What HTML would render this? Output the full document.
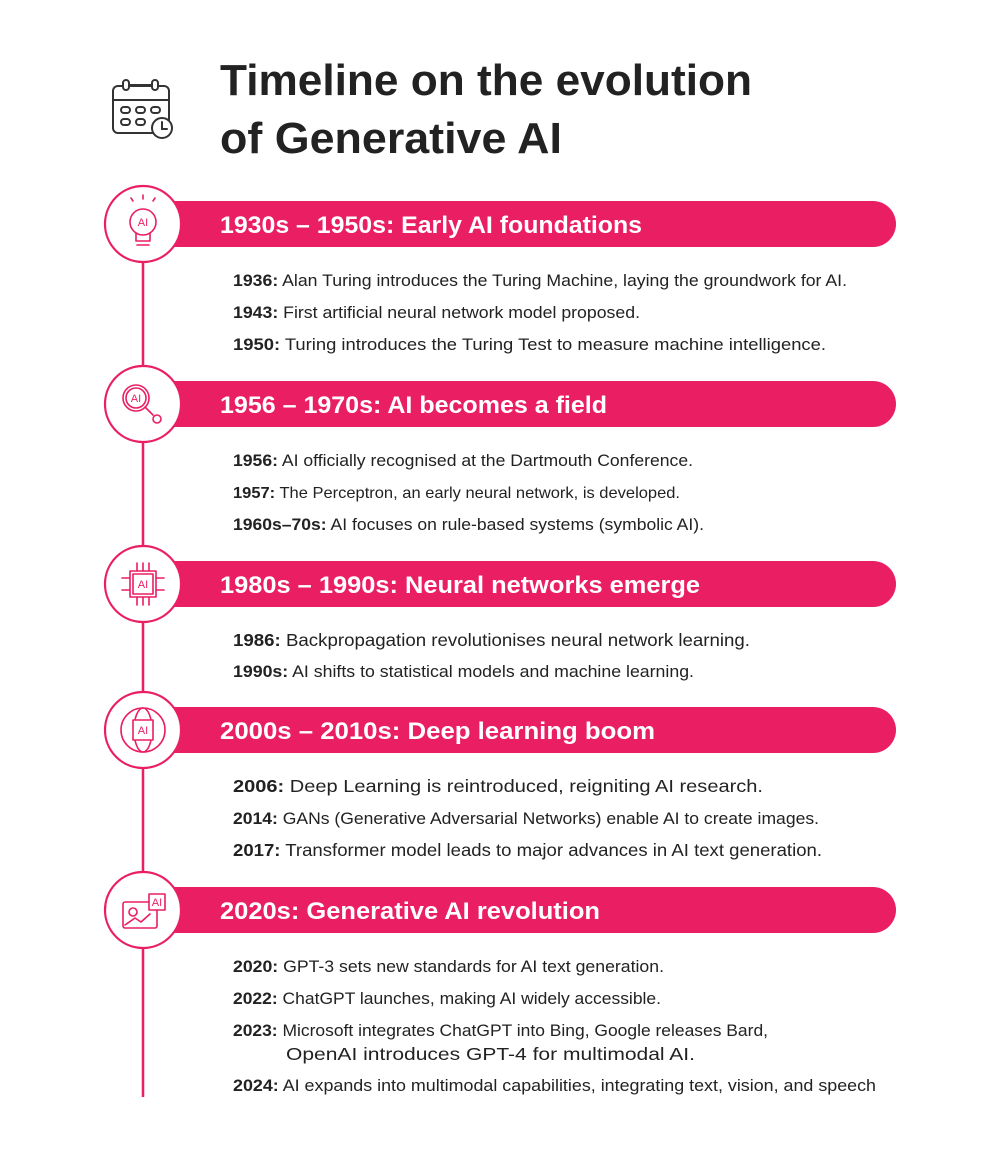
<!DOCTYPE html>
<html><head><meta charset="utf-8"><style>
html,body{margin:0;padding:0;background:#fff;}
svg{display:block;}
.t{font-family:"Liberation Sans",sans-serif;font-weight:bold;fill:#222;}
.h{font-family:"Liberation Sans",sans-serif;font-weight:bold;fill:#fff;font-size:24px;}
.i{font-family:"Liberation Sans",sans-serif;fill:#222;font-size:17px;}
.i tspan.b{font-weight:bold;}
.ic{fill:none;stroke:#ea1e63;stroke-width:1.6;stroke-linecap:round;stroke-linejoin:round;}
.ict{font-family:"Liberation Sans",sans-serif;fill:#ea1e63;font-size:11px;}
</style></head><body>
<svg width="1000" height="1156" viewBox="0 0 1000 1156" xmlns="http://www.w3.org/2000/svg">
<g fill="none" stroke="#333" stroke-width="2" stroke-linecap="round">
<rect x="113" y="86" width="56" height="47" rx="5"/>
<line x1="113" y1="100" x2="169" y2="100"/>
<rect x="123" y="80" width="6" height="10" rx="3" fill="#fff"/>
<rect x="152" y="80" width="6" height="10" rx="3" fill="#fff"/>
<line x1="129" y1="85" x2="152" y2="85"/>
<rect x="121" y="107" width="9" height="6" rx="3"/><rect x="136" y="107" width="9" height="6" rx="3"/><rect x="151" y="107" width="9" height="6" rx="3"/>
<rect x="121" y="119" width="9" height="6" rx="3"/><rect x="136" y="119" width="9" height="6" rx="3"/>
<circle cx="162" cy="128" r="10" fill="#fff"/>
<polyline points="162,122 162,129 167,129"/>
</g>
<text class="t" x="220" y="95" font-size="44" textLength="532" lengthAdjust="spacingAndGlyphs">Timeline on the evolution</text>
<text class="t" x="220" y="153" font-size="44" textLength="342" lengthAdjust="spacingAndGlyphs">of Generative AI</text>

<line x1="143" y1="224" x2="143" y2="1097" stroke="#ea1e63" stroke-width="2.5"/>

<g fill="#ea1e63">
<rect x="150" y="201" width="746" height="46" rx="23"/>
<rect x="150" y="381" width="746" height="46" rx="23"/>
<rect x="150" y="561" width="746" height="46" rx="23"/>
<rect x="150" y="707" width="746" height="46" rx="23"/>
<rect x="150" y="887" width="746" height="46" rx="23"/>
</g>
<g fill="#fff" stroke="#ea1e63" stroke-width="2.2">
<circle cx="143" cy="224" r="38"/>
<circle cx="143" cy="404" r="38"/>
<circle cx="143" cy="584" r="38"/>
<circle cx="143" cy="730" r="38"/>
<circle cx="143" cy="910" r="38"/>
</g>
<g class="ic">
<circle cx="143" cy="222" r="13"/>
<path d="M136 233 L136 241 L150 241 L150 233"/><line x1="137" y1="245" x2="149" y2="245"/>
<line x1="143" y1="195" x2="143" y2="199"/><line x1="131" y1="198" x2="133" y2="201"/><line x1="155" y1="198" x2="153" y2="201"/>
<circle cx="136" cy="398" r="13"/><circle cx="136" cy="398" r="10"/>
<line x1="145" y1="407" x2="153" y2="415"/><circle cx="157" cy="419" r="4"/>
<rect x="133" y="574" width="20" height="20"/><rect x="130" y="571" width="26" height="26"/>
<line x1="137" y1="571" x2="137" y2="563"/><line x1="143" y1="571" x2="143" y2="563"/><line x1="149" y1="571" x2="149" y2="563"/>
<line x1="137" y1="597" x2="137" y2="605"/><line x1="143" y1="597" x2="143" y2="605"/><line x1="149" y1="597" x2="149" y2="605"/>
<line x1="130" y1="578" x2="122" y2="578"/><line x1="130" y1="590" x2="122" y2="590"/>
<line x1="156" y1="578" x2="164" y2="578"/><line x1="156" y1="590" x2="164" y2="590"/>
<circle cx="143" cy="730" r="22"/><ellipse cx="143" cy="730" rx="9" ry="22"/>
<rect x="133" y="720" width="20" height="20" fill="#fff"/>
<rect x="123" y="902" width="34" height="26" rx="2"/><circle cx="133" cy="912" r="4"/>
<polyline points="125,925 135,918 141,922 150,914"/>
<rect x="149" y="894" width="16" height="16" fill="#fff"/>
</g>
<text class="ict" x="143" y="226" text-anchor="middle" font-size="10">AI</text>
<text class="ict" x="136" y="402" text-anchor="middle">AI</text>
<text class="ict" x="143" y="588" text-anchor="middle">AI</text>
<text class="ict" x="143" y="734" text-anchor="middle">AI</text>
<text class="ict" x="157" y="906" text-anchor="middle" font-size="10">AI</text>

<text class="h" x="220" y="233" textLength="422" lengthAdjust="spacingAndGlyphs">1930s – 1950s: Early AI foundations</text>
<text class="h" x="220" y="413" textLength="387" lengthAdjust="spacingAndGlyphs">1956 – 1970s: AI becomes a field</text>
<text class="h" x="220" y="593" textLength="480" lengthAdjust="spacingAndGlyphs">1980s – 1990s: Neural networks emerge</text>
<text class="h" x="220" y="739" textLength="435" lengthAdjust="spacingAndGlyphs">2000s – 2010s: Deep learning boom</text>
<text class="h" x="220" y="919" textLength="380" lengthAdjust="spacingAndGlyphs">2020s: Generative AI revolution</text>

<g class="i">
<text x="233" y="286" textLength="614" lengthAdjust="spacingAndGlyphs"><tspan class="b">1936:</tspan> Alan Turing introduces the Turing Machine, laying the groundwork for AI.</text>
<text x="233" y="318" textLength="407" lengthAdjust="spacingAndGlyphs"><tspan class="b">1943:</tspan> First artificial neural network model proposed.</text>
<text x="233" y="350" textLength="593" lengthAdjust="spacingAndGlyphs"><tspan class="b">1950:</tspan> Turing introduces the Turing Test to measure machine intelligence.</text>

<text x="233" y="466" textLength="460" lengthAdjust="spacingAndGlyphs"><tspan class="b">1956:</tspan> AI officially recognised at the Dartmouth Conference.</text>
<text x="233" y="498" font-size="16" textLength="447" lengthAdjust="spacingAndGlyphs"><tspan class="b">1957:</tspan> The Perceptron, an early neural network, is developed.</text>
<text x="233" y="530" textLength="471" lengthAdjust="spacingAndGlyphs"><tspan class="b">1960s–70s:</tspan> AI focuses on rule-based systems (symbolic AI).</text>

<text x="233" y="646" font-size="17.5" textLength="517" lengthAdjust="spacingAndGlyphs"><tspan class="b">1986:</tspan> Backpropagation revolutionises neural network learning.</text>
<text x="233" y="677" textLength="461" lengthAdjust="spacingAndGlyphs"><tspan class="b">1990s:</tspan> AI shifts to statistical models and machine learning.</text>

<text x="233" y="792" font-size="17.5" textLength="530" lengthAdjust="spacingAndGlyphs"><tspan class="b">2006:</tspan> Deep Learning is reintroduced, reigniting AI research.</text>
<text x="233" y="824" textLength="586" lengthAdjust="spacingAndGlyphs"><tspan class="b">2014:</tspan> GANs (Generative Adversarial Networks) enable AI to create images.</text>
<text x="233" y="856" font-size="17.5" textLength="589" lengthAdjust="spacingAndGlyphs"><tspan class="b">2017:</tspan> Transformer model leads to major advances in AI text generation.</text>

<text x="233" y="972" textLength="431" lengthAdjust="spacingAndGlyphs"><tspan class="b">2020:</tspan> GPT-3 sets new standards for AI text generation.</text>
<text x="233" y="1004" textLength="428" lengthAdjust="spacingAndGlyphs"><tspan class="b">2022:</tspan> ChatGPT launches, making AI widely accessible.</text>
<text x="233" y="1036" textLength="535" lengthAdjust="spacingAndGlyphs"><tspan class="b">2023:</tspan> Microsoft integrates ChatGPT into Bing, Google releases Bard,</text>
<text x="286" y="1060" font-size="17.5" textLength="409" lengthAdjust="spacingAndGlyphs">OpenAI introduces GPT-4 for multimodal AI.</text>
<text x="233" y="1091" textLength="643" lengthAdjust="spacingAndGlyphs"><tspan class="b">2024:</tspan> AI expands into multimodal capabilities, integrating text, vision, and speech</text>
</g>
</svg>
</body></html>
